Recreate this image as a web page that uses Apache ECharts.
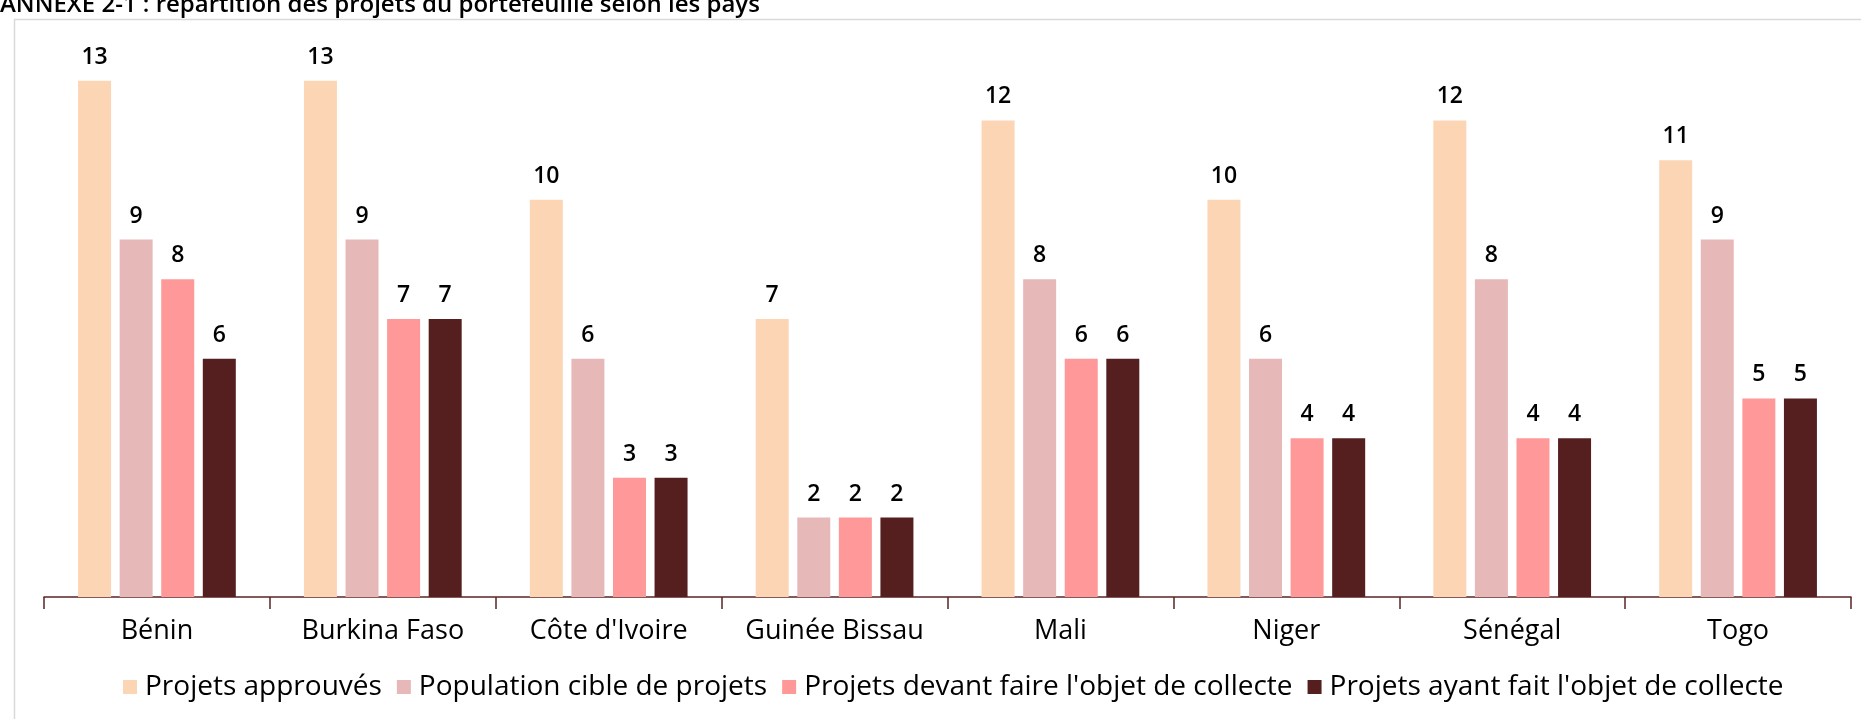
<!DOCTYPE html>
<html>
<head>
<meta charset="utf-8">
<script src="https://cdn.jsdelivr.net/npm/echarts@6/dist/echarts.min.js"></script>
<style>
  html, body { margin: 0; padding: 0; background: #fff; }
  #chart { width: 1861px; height: 719px; }
</style>
</head>
<body>
<div id="chart"></div>
<script>
// categories + series
const pays = ['Bénin', 'Burkina Faso', "Côte d'Ivoire", 'Guinée Bissau', 'Mali', 'Niger', 'Sénégal', 'Togo']
const seriesNames = ['Projets approuvés', 'Population cible de projets', "Projets devant faire l'objet de collecte", "Projets ayant fait l'objet de collecte"]
const approuves = [13, 13, 10, 7, 12, 10, 12, 11]
const populationCible = [9, 9, 6, 2, 8, 6, 8, 9]
const devantCollecte = [8, 7, 3, 2, 6, 4, 4, 5]
const ayantCollecte = [6, 7, 3, 2, 6, 4, 4, 5]

const colors = ['#FCD5B5', '#E6B9B8', '#FF9999', '#561F1F']
const font = 'Open Sans'

const chart = echarts.init(document.getElementById('chart'))

function bar(name, data, color) {
  return {
    name,
    type: 'bar',
    data,
    barWidth: 33,
    barGap: '26%',
    itemStyle: { color },
    label: {
      show: true,
      position: 'top',
      distance: 12,
      color: '#000',
      fontFamily: font,
      fontSize: 23,
      fontWeight: 600
    }
  }
}

chart.setOption({
  animation: false,
  backgroundColor: '#fff',
  color: colors,
  graphic: [
    // cropped frame of the original figure
    { type: 'line', shape: { x1: 14, y1: 19.5, x2: 1861, y2: 19.5 }, style: { stroke: '#d9d9d9', lineWidth: 1.5 } },
    { type: 'line', shape: { x1: 14.5, y1: 19, x2: 14.5, y2: 719 }, style: { stroke: '#d9d9d9', lineWidth: 1.5 } },
    {
      type: 'text', left: 0, top: -7,
      style: {
        text: 'ANNEXE 2-1 : répartition des projets du portefeuille selon les pays',
        fill: '#000', font: `600 24px "${font}"`
      }
    }
  ],
  legend: {
    left: 118,
    top: 668,
    itemWidth: 14,
    itemHeight: 14,
    itemGap: 15,
    icon: 'rect',
    textStyle: { color: '#000', fontFamily: font, fontSize: 28, padding: [0, 0, 0, 3] },
    data: seriesNames
  },
  grid: { left: 44, right: 10, top: 41, bottom: 122 },
  xAxis: {
    type: 'category',
    data: pays,
    axisLine: { lineStyle: { color: '#5a2424', width: 1.5 } },
    axisTick: { show: true, length: 12, interval: 0, lineStyle: { color: '#5a2424', width: 1.5 } },
    axisLabel: { interval: 0, color: '#000', fontFamily: font, fontSize: 27, margin: 21 }
  },
  yAxis: {
    type: 'value',
    min: 0,
    max: 14,
    show: false
  },
  series: [
    bar(seriesNames[0], approuves, colors[0]),
    bar(seriesNames[1], populationCible, colors[1]),
    bar(seriesNames[2], devantCollecte, colors[2]),
    bar(seriesNames[3], ayantCollecte, colors[3])
  ]
})

window.addEventListener('resize', () => chart.resize())
</script>
</body>
</html>
